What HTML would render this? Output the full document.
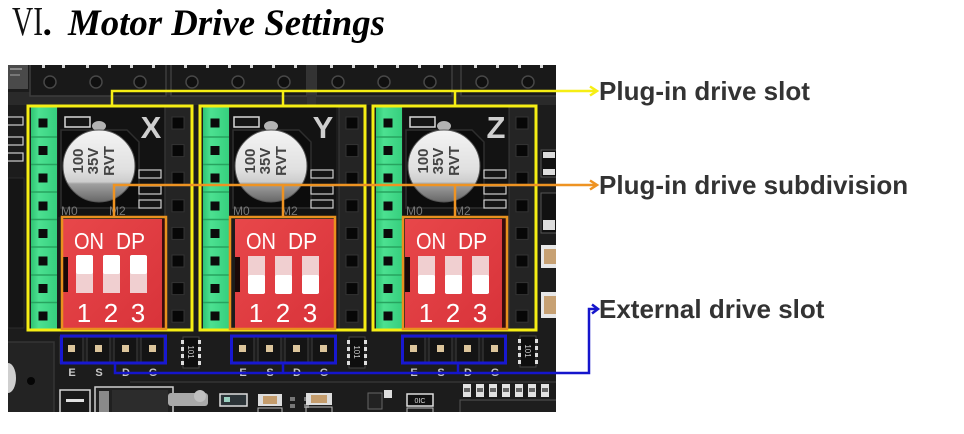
<!DOCTYPE html>
<html><head><meta charset="utf-8">
<style>
html,body{margin:0;padding:0;background:#fff;}
svg{display:block;}
</style></head><body>
<svg width="964" height="434" viewBox="0 0 964 434" xmlns="http://www.w3.org/2000/svg">
<defs>
<linearGradient id="cap" x1="0" y1="0" x2="0" y2="1">
<stop offset="0" stop-color="#f4f4f4"/>
<stop offset="0.55" stop-color="#e0e0e0"/>
<stop offset="0.72" stop-color="#cdcdcd"/>
<stop offset="0.75" stop-color="#a0a0a0"/>
<stop offset="1" stop-color="#676767"/>
</linearGradient>
<linearGradient id="grn" x1="0" y1="0" x2="1" y2="0">
<stop offset="0" stop-color="#2ec473"/><stop offset="0.3" stop-color="#4ce191"/><stop offset="1" stop-color="#36cf7e"/>
</linearGradient>
<linearGradient id="red" x1="0" y1="0" x2="1" y2="1">
<stop offset="0" stop-color="#e8474a"/><stop offset="1" stop-color="#d8333a"/>
</linearGradient>
<clipPath id="ph"><rect x="8" y="65" width="548" height="347"/></clipPath>
</defs>
<rect width="964" height="434" fill="#fff"/>

<!-- Title -->
<text x="12" y="35" font-family="Liberation Serif, serif" font-size="41" textLength="31" lengthAdjust="spacingAndGlyphs" fill="#111">VI</text>
<text x="44" y="35" font-family="Liberation Serif, serif" font-size="37" font-weight="bold" font-style="italic" fill="#000">.</text>
<text x="68" y="35" font-family="Liberation Serif, serif" font-size="37" font-weight="bold" font-style="italic" fill="#000" textLength="317" lengthAdjust="spacingAndGlyphs">Motor Drive Settings</text>

<!-- PHOTO -->
<g clip-path="url(#ph)">
<rect x="8" y="65" width="548" height="347" fill="#1c1c1c"/>
<!-- top-left light area -->
<rect x="8" y="65" width="20" height="24" fill="#4a4a4a"/>
<rect x="10" y="68" width="12" height="2" fill="#888"/>
<rect x="10" y="74" width="10" height="2" fill="#777"/>
<!-- top connectors -->
<rect x="8" y="92" width="548" height="13" fill="#2a2a2a"/>
<g fill="#191919" stroke="#3d3d3d" stroke-width="1.5">
<rect x="30" y="64" width="136" height="32"/>
<rect x="171" y="64" width="136" height="32"/>
<rect x="316" y="64" width="136" height="32"/>
<rect x="461" y="64" width="100" height="32"/>
</g>
<rect x="307" y="64" width="9" height="42" fill="#333"/>
<g fill="#101010" stroke="#474747" stroke-width="1.5">
<circle cx="50" cy="82" r="6"/><circle cx="96" cy="82" r="6"/><circle cx="140" cy="82" r="6"/>
<circle cx="192" cy="82" r="6"/><circle cx="238" cy="82" r="6"/><circle cx="284" cy="82" r="6"/>
<circle cx="338" cy="82" r="6"/><circle cx="384" cy="82" r="6"/><circle cx="430" cy="82" r="6"/>
<circle cx="482" cy="82" r="6"/><circle cx="528" cy="82" r="6"/>
</g>
<g fill="#d8d8d8">
<rect x="42" y="65" width="3" height="3"/><rect x="62" y="65" width="3" height="3"/><rect x="86" y="65" width="3" height="3"/><rect x="108" y="65" width="3" height="3"/><rect x="130" y="65" width="3" height="3"/><rect x="152" y="65" width="3" height="3"/>
<rect x="184" y="65" width="3" height="3"/><rect x="206" y="65" width="3" height="3"/><rect x="228" y="65" width="3" height="3"/><rect x="250" y="65" width="3" height="3"/><rect x="272" y="65" width="3" height="3"/><rect x="294" y="65" width="3" height="3"/>
<rect x="330" y="65" width="3" height="3"/><rect x="352" y="65" width="3" height="3"/><rect x="374" y="65" width="3" height="3"/><rect x="396" y="65" width="3" height="3"/><rect x="418" y="65" width="3" height="3"/><rect x="440" y="65" width="3" height="3"/>
<rect x="474" y="65" width="3" height="3"/><rect x="496" y="65" width="3" height="3"/><rect x="518" y="65" width="3" height="3"/><rect x="540" y="65" width="3" height="3"/>
</g>

<!-- left strip -->
<g fill="#1a1a1a" stroke="#cfcfcf" stroke-width="1.2">
<rect x="6" y="117" width="17" height="8"/>
<rect x="6" y="137" width="17" height="8"/>
<rect x="6" y="153" width="17" height="8"/>
</g>
<rect x="8" y="178" width="16" height="150" fill="#151515" stroke="#2c2c2c"/>
<rect x="6" y="342" width="48" height="75" fill="#232323" stroke="#353535" stroke-width="1.5"/>
<ellipse cx="8" cy="378" rx="8" ry="15" fill="#cfcfcf"/>
<circle cx="31" cy="381" r="4" fill="#050505"/>

<!-- right strip -->
<rect x="541" y="150" width="16" height="27" fill="#111" stroke="#555"/>
<rect x="543" y="152" width="12" height="6" fill="#ddd"/>
<rect x="543" y="169" width="12" height="6" fill="#ddd"/>
<rect x="541" y="193" width="16" height="40" fill="#111" stroke="#555"/>
<rect x="543" y="220" width="12" height="10" fill="#ddd"/>
<rect x="541" y="245" width="16" height="23" fill="#e8e8e8"/>
<rect x="544" y="249" width="12" height="15" fill="#c7a173"/>
<rect x="541" y="292" width="16" height="26" fill="#e8e8e8"/>
<rect x="544" y="296" width="12" height="18" fill="#c7a173"/>

<!-- ===== SLOT X ===== -->
<g transform="translate(27,0)">
<rect x="31" y="107" width="106" height="110" fill="#131313"/>
<path d="M34 130 H100 L112 142 V208 H34 Z" fill="#0c0c0c" stroke="#2e2e2e" stroke-width="1.5"/>
<rect x="4" y="107" width="26" height="223" fill="url(#grn)"/>
<g stroke="#27a35f" stroke-width="1.5"><line x1="4" y1="137" x2="30" y2="137"/><line x1="4" y1="164.5" x2="30" y2="164.5"/><line x1="4" y1="192" x2="30" y2="192"/><line x1="4" y1="219.5" x2="30" y2="219.5"/><line x1="4" y1="247" x2="30" y2="247"/><line x1="4" y1="275" x2="30" y2="275"/><line x1="4" y1="302.5" x2="30" y2="302.5"/></g>
<g fill="#0b0b0b"><rect x="11.5" y="118.5" width="9" height="9"/><rect x="11.5" y="146" width="9" height="9"/><rect x="11.5" y="173.5" width="9" height="9"/><rect x="11.5" y="201.5" width="9" height="9"/><rect x="11.5" y="229" width="9" height="9"/><rect x="11.5" y="256.5" width="9" height="9"/><rect x="11.5" y="284" width="9" height="9"/><rect x="11.5" y="311.5" width="9" height="9"/></g>
<rect x="138" y="107" width="26" height="223" fill="#242424" stroke="#3a3a3a"/>
<g fill="#070707" stroke="#333"><rect x="145" y="117" width="12" height="12"/><rect x="145" y="144.6" width="12" height="12"/><rect x="145" y="172.2" width="12" height="12"/><rect x="145" y="199.8" width="12" height="12"/><rect x="145" y="227.4" width="12" height="12"/><rect x="145" y="255" width="12" height="12"/><rect x="145" y="282.6" width="12" height="12"/><rect x="145" y="310.2" width="12" height="12"/></g>
<rect x="38" y="117" width="25" height="10" fill="#151515" stroke="#d8d8d8" stroke-width="1.5"/>
<ellipse cx="72" cy="126" rx="7" ry="5" fill="#b4b4b4"/>
<circle cx="72" cy="166" r="36" fill="url(#cap)" stroke="#555" stroke-width="1"/>
<text transform="translate(72,166) rotate(-90)" text-anchor="middle" font-family="Liberation Sans, sans-serif" font-size="15" font-weight="bold" fill="#444"><tspan x="5" y="-16">100</tspan><tspan x="5" y="-1">35V</tspan><tspan x="5" y="15">RVT</tspan></text>
<text x="124" y="138" text-anchor="middle" font-family="Liberation Sans, sans-serif" font-size="31" font-weight="bold" fill="#cfcfcf">X</text>
<g fill="#151515" stroke="#cfcfcf" stroke-width="1.2"><rect x="112" y="170" width="22" height="8"/><rect x="112" y="186" width="22" height="8"/><rect x="112" y="200" width="22" height="8"/></g>
<text x="34" y="215" font-family="Liberation Sans, sans-serif" font-size="12" fill="#777">M0</text>
<text x="82" y="215" font-family="Liberation Sans, sans-serif" font-size="12" fill="#777">M2</text>
</g>

<!-- ===== SLOT Y ===== -->
<g transform="translate(199,0)">
<rect x="31" y="107" width="106" height="110" fill="#131313"/>
<path d="M34 130 H100 L112 142 V208 H34 Z" fill="#0c0c0c" stroke="#2e2e2e" stroke-width="1.5"/>
<rect x="4" y="107" width="26" height="223" fill="url(#grn)"/>
<g stroke="#27a35f" stroke-width="1.5"><line x1="4" y1="137" x2="30" y2="137"/><line x1="4" y1="164.5" x2="30" y2="164.5"/><line x1="4" y1="192" x2="30" y2="192"/><line x1="4" y1="219.5" x2="30" y2="219.5"/><line x1="4" y1="247" x2="30" y2="247"/><line x1="4" y1="275" x2="30" y2="275"/><line x1="4" y1="302.5" x2="30" y2="302.5"/></g>
<g fill="#0b0b0b"><rect x="11.5" y="118.5" width="9" height="9"/><rect x="11.5" y="146" width="9" height="9"/><rect x="11.5" y="173.5" width="9" height="9"/><rect x="11.5" y="201.5" width="9" height="9"/><rect x="11.5" y="229" width="9" height="9"/><rect x="11.5" y="256.5" width="9" height="9"/><rect x="11.5" y="284" width="9" height="9"/><rect x="11.5" y="311.5" width="9" height="9"/></g>
<rect x="140" y="107" width="26" height="223" fill="#242424" stroke="#3a3a3a"/>
<g fill="#070707" stroke="#333"><rect x="147" y="117" width="12" height="12"/><rect x="147" y="144.6" width="12" height="12"/><rect x="147" y="172.2" width="12" height="12"/><rect x="147" y="199.8" width="12" height="12"/><rect x="147" y="227.4" width="12" height="12"/><rect x="147" y="255" width="12" height="12"/><rect x="147" y="282.6" width="12" height="12"/><rect x="147" y="310.2" width="12" height="12"/></g>
<rect x="35" y="117" width="25" height="10" fill="#151515" stroke="#d8d8d8" stroke-width="1.5"/>
<ellipse cx="72" cy="126" rx="7" ry="5" fill="#b4b4b4"/>
<circle cx="72" cy="166" r="36" fill="url(#cap)" stroke="#555" stroke-width="1"/>
<text transform="translate(72,166) rotate(-90)" text-anchor="middle" font-family="Liberation Sans, sans-serif" font-size="15" font-weight="bold" fill="#444"><tspan x="5" y="-16">100</tspan><tspan x="5" y="-1">35V</tspan><tspan x="5" y="15">RVT</tspan></text>
<text x="124" y="138" text-anchor="middle" font-family="Liberation Sans, sans-serif" font-size="31" font-weight="bold" fill="#cfcfcf">Y</text>
<g fill="#151515" stroke="#cfcfcf" stroke-width="1.2"><rect x="112" y="170" width="22" height="8"/><rect x="112" y="186" width="22" height="8"/><rect x="112" y="200" width="22" height="8"/></g>
<text x="34" y="215" font-family="Liberation Sans, sans-serif" font-size="12" fill="#777">M0</text>
<text x="82" y="215" font-family="Liberation Sans, sans-serif" font-size="12" fill="#777">M2</text>
</g>

<!-- ===== SLOT Z ===== -->
<g transform="translate(372,0)">
<rect x="31" y="107" width="106" height="110" fill="#131313"/>
<path d="M34 130 H100 L112 142 V208 H34 Z" fill="#0c0c0c" stroke="#2e2e2e" stroke-width="1.5"/>
<rect x="4" y="107" width="26" height="223" fill="url(#grn)"/>
<g stroke="#27a35f" stroke-width="1.5"><line x1="4" y1="137" x2="30" y2="137"/><line x1="4" y1="164.5" x2="30" y2="164.5"/><line x1="4" y1="192" x2="30" y2="192"/><line x1="4" y1="219.5" x2="30" y2="219.5"/><line x1="4" y1="247" x2="30" y2="247"/><line x1="4" y1="275" x2="30" y2="275"/><line x1="4" y1="302.5" x2="30" y2="302.5"/></g>
<g fill="#0b0b0b"><rect x="11.5" y="118.5" width="9" height="9"/><rect x="11.5" y="146" width="9" height="9"/><rect x="11.5" y="173.5" width="9" height="9"/><rect x="11.5" y="201.5" width="9" height="9"/><rect x="11.5" y="229" width="9" height="9"/><rect x="11.5" y="256.5" width="9" height="9"/><rect x="11.5" y="284" width="9" height="9"/><rect x="11.5" y="311.5" width="9" height="9"/></g>
<rect x="137" y="107" width="26" height="223" fill="#242424" stroke="#3a3a3a"/>
<g fill="#070707" stroke="#333"><rect x="144" y="117" width="12" height="12"/><rect x="144" y="144.6" width="12" height="12"/><rect x="144" y="172.2" width="12" height="12"/><rect x="144" y="199.8" width="12" height="12"/><rect x="144" y="227.4" width="12" height="12"/><rect x="144" y="255" width="12" height="12"/><rect x="144" y="282.6" width="12" height="12"/><rect x="144" y="310.2" width="12" height="12"/></g>
<rect x="38" y="117" width="25" height="10" fill="#151515" stroke="#d8d8d8" stroke-width="1.5"/>
<ellipse cx="72" cy="126" rx="7" ry="5" fill="#b4b4b4"/>
<circle cx="72" cy="166" r="36" fill="url(#cap)" stroke="#555" stroke-width="1"/>
<text transform="translate(72,166) rotate(-90)" text-anchor="middle" font-family="Liberation Sans, sans-serif" font-size="15" font-weight="bold" fill="#444"><tspan x="5" y="-16">100</tspan><tspan x="5" y="-1">35V</tspan><tspan x="5" y="15">RVT</tspan></text>
<text x="124" y="138" text-anchor="middle" font-family="Liberation Sans, sans-serif" font-size="31" font-weight="bold" fill="#cfcfcf">Z</text>
<g fill="#151515" stroke="#cfcfcf" stroke-width="1.2"><rect x="112" y="170" width="22" height="8"/><rect x="112" y="186" width="22" height="8"/><rect x="112" y="200" width="22" height="8"/></g>
<text x="34" y="215" font-family="Liberation Sans, sans-serif" font-size="12" fill="#777">M0</text>
<text x="82" y="215" font-family="Liberation Sans, sans-serif" font-size="12" fill="#777">M2</text>
</g>

<!-- ===== RED DIP SWITCHES ===== -->
<!-- X, switches up -->
<g transform="translate(63,0)">
<rect x="0" y="219" width="99" height="110" fill="url(#red)"/>
<rect x="99" y="219" width="4" height="110" fill="#3a0c0c"/>
<rect x="0" y="257" width="5" height="35" fill="#1a0808"/>
<text x="11" y="249" font-family="Liberation Sans, sans-serif" font-size="23" fill="#fff" textLength="30" lengthAdjust="spacingAndGlyphs">ON</text>
<text x="53" y="249" font-family="Liberation Sans, sans-serif" font-size="23" fill="#fff" textLength="29" lengthAdjust="spacingAndGlyphs">DP</text>
<g fill="#f0cfd0"><rect x="13" y="256" width="17" height="37"/><rect x="40" y="256" width="17" height="37"/><rect x="67" y="256" width="17" height="37"/></g>
<g fill="#ffffff"><rect x="13" y="255" width="17" height="19" rx="2"/><rect x="40" y="255" width="17" height="19" rx="2"/><rect x="67" y="255" width="17" height="19" rx="2"/></g>
<g font-family="Liberation Sans, sans-serif" font-size="26" fill="#fff" text-anchor="middle"><text x="21" y="322">1</text><text x="48" y="322">2</text><text x="75" y="322">3</text></g>
</g>
<!-- Y, switches down -->
<g transform="translate(235,0)">
<rect x="0" y="219" width="99" height="110" fill="url(#red)"/>
<rect x="99" y="219" width="3" height="110" fill="#3a0c0c"/>
<rect x="0" y="257" width="5" height="35" fill="#1a0808"/>
<text x="11" y="249" font-family="Liberation Sans, sans-serif" font-size="23" fill="#fff" textLength="30" lengthAdjust="spacingAndGlyphs">ON</text>
<text x="53" y="249" font-family="Liberation Sans, sans-serif" font-size="23" fill="#fff" textLength="29" lengthAdjust="spacingAndGlyphs">DP</text>
<g fill="#f0cfd0"><rect x="13" y="256" width="17" height="37"/><rect x="40" y="256" width="17" height="37"/><rect x="67" y="256" width="17" height="37"/></g>
<g fill="#ffffff"><rect x="13" y="275" width="17" height="19" rx="2"/><rect x="40" y="275" width="17" height="19" rx="2"/><rect x="67" y="275" width="17" height="19" rx="2"/></g>
<g font-family="Liberation Sans, sans-serif" font-size="26" fill="#fff" text-anchor="middle"><text x="21" y="322">1</text><text x="48" y="322">2</text><text x="75" y="322">3</text></g>
</g>
<!-- Z, switches down -->
<g transform="translate(405,0)">
<rect x="0" y="219" width="97" height="110" fill="url(#red)"/>
<rect x="97" y="219" width="4" height="110" fill="#3a0c0c"/>
<rect x="0" y="257" width="5" height="35" fill="#1a0808"/>
<text x="11" y="249" font-family="Liberation Sans, sans-serif" font-size="23" fill="#fff" textLength="30" lengthAdjust="spacingAndGlyphs">ON</text>
<text x="53" y="249" font-family="Liberation Sans, sans-serif" font-size="23" fill="#fff" textLength="29" lengthAdjust="spacingAndGlyphs">DP</text>
<g fill="#f0cfd0"><rect x="13" y="256" width="17" height="37"/><rect x="40" y="256" width="17" height="37"/><rect x="67" y="256" width="17" height="37"/></g>
<g fill="#ffffff"><rect x="13" y="275" width="17" height="19" rx="2"/><rect x="40" y="275" width="17" height="19" rx="2"/><rect x="67" y="275" width="17" height="19" rx="2"/></g>
<g font-family="Liberation Sans, sans-serif" font-size="26" fill="#fff" text-anchor="middle"><text x="21" y="322">1</text><text x="48" y="322">2</text><text x="75" y="322">3</text></g>
</g>

<!-- ===== PIN HEADERS (E S D G) ===== -->
<g transform="translate(60,0)">
<g fill="#141414" stroke="#323232" stroke-width="1.5"><rect x="0" y="337" width="23" height="26"/><rect x="27" y="337" width="23" height="26"/><rect x="54" y="337" width="23" height="26"/><rect x="81" y="337" width="23" height="26"/></g>
<g fill="#dcc59b"><rect x="8" y="345" width="7" height="7"/><rect x="35" y="345" width="7" height="7"/><rect x="62" y="345" width="7" height="7"/><rect x="89" y="345" width="7" height="7"/></g>
<g font-family="Liberation Sans, sans-serif" font-size="11" font-weight="bold" fill="#c8c8c8" text-anchor="middle"><text x="12" y="376">E</text><text x="39" y="376">S</text><text x="66" y="376">D</text><text x="93" y="376">G</text></g>
</g>
<g transform="translate(230,0)">
<g fill="#141414" stroke="#323232" stroke-width="1.5"><rect x="1" y="337" width="23" height="26"/><rect x="28" y="337" width="23" height="26"/><rect x="55" y="337" width="23" height="26"/><rect x="82" y="337" width="23" height="26"/></g>
<g fill="#dcc59b"><rect x="9" y="345" width="7" height="7"/><rect x="36" y="345" width="7" height="7"/><rect x="63" y="345" width="7" height="7"/><rect x="90" y="345" width="7" height="7"/></g>
<g font-family="Liberation Sans, sans-serif" font-size="11" font-weight="bold" fill="#c8c8c8" text-anchor="middle"><text x="13" y="376">E</text><text x="40" y="376">S</text><text x="67" y="376">D</text><text x="94" y="376">G</text></g>
</g>
<g transform="translate(401,0)">
<g fill="#141414" stroke="#323232" stroke-width="1.5"><rect x="1" y="337" width="23" height="26"/><rect x="28" y="337" width="23" height="26"/><rect x="55" y="337" width="23" height="26"/><rect x="82" y="337" width="23" height="26"/></g>
<g fill="#dcc59b"><rect x="9" y="345" width="7" height="7"/><rect x="36" y="345" width="7" height="7"/><rect x="63" y="345" width="7" height="7"/><rect x="90" y="345" width="7" height="7"/></g>
<g font-family="Liberation Sans, sans-serif" font-size="11" font-weight="bold" fill="#c8c8c8" text-anchor="middle"><text x="13" y="376">E</text><text x="40" y="376">S</text><text x="67" y="376">D</text><text x="94" y="376">G</text></g>
</g>

<!-- 101 resistor arrays -->
<g>
<rect x="183" y="337" width="16" height="31" fill="#0e0e0e" stroke="#444"/>
<g fill="#ddd"><rect x="181" y="340" width="3" height="4"/><rect x="181" y="347" width="3" height="4"/><rect x="181" y="354" width="3" height="4"/><rect x="181" y="361" width="3" height="4"/><rect x="198" y="340" width="3" height="4"/><rect x="198" y="347" width="3" height="4"/><rect x="198" y="354" width="3" height="4"/><rect x="198" y="361" width="3" height="4"/></g>
<text transform="translate(188,352) rotate(90)" text-anchor="middle" font-family="Liberation Sans, sans-serif" font-size="8" fill="#ccc">101</text>
</g>
<g>
<rect x="349" y="337" width="16" height="31" fill="#0e0e0e" stroke="#444"/>
<g fill="#ddd"><rect x="347" y="340" width="3" height="4"/><rect x="347" y="347" width="3" height="4"/><rect x="347" y="354" width="3" height="4"/><rect x="347" y="361" width="3" height="4"/><rect x="364" y="340" width="3" height="4"/><rect x="364" y="347" width="3" height="4"/><rect x="364" y="354" width="3" height="4"/><rect x="364" y="361" width="3" height="4"/></g>
<text transform="translate(354,352) rotate(90)" text-anchor="middle" font-family="Liberation Sans, sans-serif" font-size="8" fill="#ccc">101</text>
</g>
<g>
<rect x="520" y="336" width="16" height="31" fill="#0e0e0e" stroke="#444"/>
<g fill="#ddd"><rect x="518" y="339" width="3" height="4"/><rect x="518" y="346" width="3" height="4"/><rect x="518" y="353" width="3" height="4"/><rect x="518" y="360" width="3" height="4"/><rect x="535" y="339" width="3" height="4"/><rect x="535" y="346" width="3" height="4"/><rect x="535" y="353" width="3" height="4"/><rect x="535" y="360" width="3" height="4"/></g>
<text transform="translate(525,351) rotate(90)" text-anchor="middle" font-family="Liberation Sans, sans-serif" font-size="8" fill="#ccc">101</text>
</g>

<!-- bottom components -->
<line x1="130" y1="382" x2="556" y2="382" stroke="#2e2e2e" stroke-width="2"/>
<rect x="60" y="390" width="30" height="26" fill="#1a1a1a" stroke="#d6d6d6" stroke-width="1.5"/>
<rect x="66" y="399" width="18" height="3" fill="#e0e0e0"/>
<rect x="95" y="387" width="78" height="30" fill="#202020" stroke="#cfcfcf" stroke-width="1.5"/>
<rect x="99" y="391" width="10" height="22" fill="#8a8a8a"/>
<rect x="112" y="390" width="56" height="24" fill="#2c2c2c"/>
<rect x="168" y="393" width="40" height="13" fill="#a9a9a9" rx="3"/>
<circle cx="200" cy="396" r="6" fill="#c0c0c0"/>
<rect x="220" y="394" width="27" height="12" fill="#2c3438" stroke="#ddd" stroke-width="1.5"/>
<rect x="224" y="397" width="6" height="5" fill="#9ad0c0"/>
<rect x="258" y="394" width="24" height="12" fill="#ddd"/>
<rect x="263" y="396" width="14" height="8" fill="#c49c6c"/>
<rect x="258" y="408" width="24" height="6" fill="none" stroke="#bbb"/>
<g fill="#777"><rect x="290" y="397" width="5" height="4"/><rect x="290" y="404" width="5" height="4"/><rect x="304" y="397" width="5" height="4"/><rect x="304" y="404" width="5" height="4"/></g>
<rect x="306" y="393" width="26" height="12" fill="#ddd"/>
<rect x="311" y="395" width="16" height="8" fill="#c49c6c"/>
<rect x="306" y="407" width="26" height="8" fill="none" stroke="#bbb"/>
<rect x="368" y="393" width="14" height="16" fill="#222" stroke="#666"/>
<rect x="384" y="390" width="8" height="8" fill="#ddd"/>
<rect x="407" y="394" width="26" height="12" fill="#111" stroke="#ddd" stroke-width="1.5"/>
<text x="420" y="403" text-anchor="middle" font-family="Liberation Sans, sans-serif" font-size="7" fill="#ddd">0IC</text>
<rect x="407" y="408" width="26" height="8" fill="none" stroke="#bbb"/>
<g fill="#e2e2e2"><rect x="463" y="384" width="8" height="13"/><rect x="476" y="384" width="8" height="13"/><rect x="489" y="384" width="8" height="13"/><rect x="502" y="384" width="8" height="13"/><rect x="515" y="384" width="8" height="13"/><rect x="528" y="384" width="8" height="13"/><rect x="541" y="384" width="8" height="13"/></g>
<g fill="#666"><rect x="464" y="388" width="6" height="4"/><rect x="477" y="388" width="6" height="4"/><rect x="490" y="388" width="6" height="4"/><rect x="503" y="388" width="6" height="4"/><rect x="516" y="388" width="6" height="4"/><rect x="529" y="388" width="6" height="4"/><rect x="542" y="388" width="6" height="4"/></g>
<rect x="460" y="400" width="100" height="16" fill="#1e1e1e" stroke="#555"/>
</g>

<!-- ===== ANNOTATION BOXES ===== -->
<g fill="none" stroke="#f6ee14" stroke-width="3">
<rect x="28" y="106" width="164" height="224"/>
<rect x="200" y="106" width="165" height="224"/>
<rect x="373" y="106" width="163" height="224"/>
</g>
<g fill="none" stroke="#e8901e" stroke-width="2.5">
<rect x="62" y="217" width="104" height="112"/>
<rect x="230" y="217" width="105" height="112"/>
<rect x="403" y="217" width="104" height="112"/>
</g>
<g fill="none" stroke="#1818d0" stroke-width="3">
<rect x="61.5" y="336" width="104" height="27"/>
<rect x="231.5" y="336" width="104" height="27"/>
<rect x="402.5" y="336" width="103" height="27"/>
</g>

<!-- connector lines -->
<g fill="none" stroke="#f6ee14" stroke-width="2.5">
<polyline points="112,105 112,91 596,91"/>
<line x1="283" y1="91" x2="283" y2="105"/>
<line x1="455" y1="91" x2="455" y2="105"/>
<polyline points="590,86.5 597,91 590,95.5"/>
</g>
<g fill="none" stroke="#ee9322" stroke-width="2.5">
<polyline points="114,216 114,185 596,185"/>
<line x1="283" y1="185" x2="283" y2="216"/>
<line x1="455" y1="185" x2="455" y2="216"/>
<polyline points="590,180.5 597,185 590,189.5"/>
</g>
<g fill="none" stroke="#1515cc" stroke-width="2.5">
<polyline points="115,364 115,373 589,373 589,309 597,309"/>
<line x1="283" y1="364" x2="283" y2="373"/>
<line x1="458" y1="364" x2="458" y2="373"/>
<polyline points="592,304.5 598,309 592,313.5"/>
</g>

<!-- labels -->
<g font-family="Liberation Sans, Arial, sans-serif" font-size="26" font-weight="bold" fill="#333">
<text x="599" y="100">Plug-in drive slot</text>
<text x="599" y="194">Plug-in drive subdivision</text>
<text x="599" y="318">External drive slot</text>
</g>
</svg>
</body></html>
